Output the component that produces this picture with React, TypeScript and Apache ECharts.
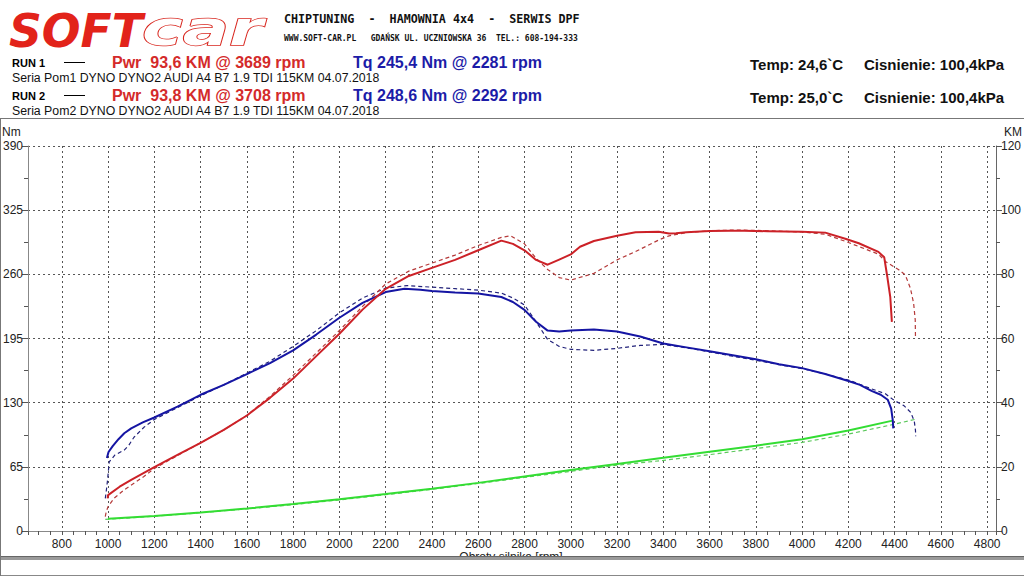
import { useEffect, useRef } from "react";
import * as echarts from "echarts";

// ---- Run 1 (solid lines) ----
const rpmTq1 = [995, 1002, 1020, 1045, 1070, 1100, 1150, 1200, 1300, 1400, 1500, 1600, 1700, 1800, 1900, 2000, 2100, 2200, 2281, 2350, 2400, 2500, 2600, 2700, 2750, 2800, 2850, 2900, 2950, 3000, 3100, 3200, 3300, 3400, 3500, 3600, 3700, 3800, 3900, 4000, 4100, 4200, 4250, 4300, 4340, 4370, 4385, 4392, 4394];
const tq1 = [74, 80, 86, 93, 99, 104, 110, 115, 126, 138, 148, 159, 170, 183, 199, 216, 231, 242, 245.4, 244.5, 243, 241.5, 240.5, 237, 232, 224, 212, 203, 202, 203, 204, 202, 197, 190, 186, 182, 178, 174, 169, 165, 159, 152, 148, 142, 138, 133, 124, 112, 104];

const rpmPwr1 = [998, 1000, 1050, 1100, 1200, 1300, 1400, 1500, 1600, 1700, 1800, 1900, 2000, 2100, 2200, 2300, 2400, 2500, 2600, 2700, 2750, 2800, 2850, 2900, 2950, 3000, 3040, 3100, 3200, 3280, 3380, 3425, 3455, 3500, 3600, 3689, 3750, 3850, 4000, 4100, 4190, 4245, 4330, 4355, 4367, 4381, 4388];
const pwr1 = [10.2, 11.2, 13.8, 15.9, 19.9, 23.7, 27.5, 31.5, 36, 41.5, 47.5, 54.5, 61.5, 69, 75.5, 79.5, 82, 84.5, 87.5, 90.5, 89.5, 87.5, 84.5, 83, 84.6, 86.2, 88.6, 90.4, 92, 93.1, 93.3, 92.7, 92.8, 93.1, 93.5, 93.6, 93.55, 93.45, 93.3, 93.0, 91.0, 89.7, 87.0, 85.3, 79.8, 73, 65.2];

const rpmLoss1 = [1000, 1200, 1400, 1600, 1800, 2000, 2200, 2400, 2600, 2800, 3000, 3200, 3400, 3600, 3800, 4000, 4200, 4391];
const loss1 = [3.8, 4.7, 5.8, 7.0, 8.4, 9.9, 11.5, 13.2, 15.0, 17.0, 19.0, 20.9, 22.8, 24.7, 26.6, 28.6, 31.3, 34.4];

// ---- Run 2 (dashed lines) ----
const rpmTq2 = [988, 992, 998, 1005, 1030, 1070, 1090, 1112, 1155, 1200, 1300, 1400, 1500, 1600, 1700, 1800, 1900, 2000, 2100, 2200, 2292, 2400, 2500, 2600, 2700, 2750, 2800, 2850, 2900, 2950, 3000, 3100, 3200, 3300, 3400, 3500, 3600, 3700, 3800, 3900, 4000, 4100, 4200, 4300, 4360, 4400, 4440, 4470, 4485, 4490, 4491];
const tq2 = [33, 40, 52, 70, 77, 82, 87, 95, 105, 113, 125, 137, 148, 160, 172, 187, 203, 221, 236, 246, 248.6, 247, 245.5, 244, 241, 236, 229, 212, 194, 187, 184, 183, 185, 188, 189, 185.5, 181.5, 177, 173, 168.5, 164.5, 159, 153, 144, 139, 132, 127, 120, 111, 102, 96];

const rpmPwr2 = [988, 992, 1000, 1026, 1069, 1112, 1155, 1200, 1300, 1400, 1500, 1600, 1700, 1800, 1900, 2000, 2100, 2200, 2300, 2400, 2500, 2600, 2700, 2740, 2800, 2850, 2900, 2950, 3000, 3100, 3200, 3280, 3380, 3425, 3500, 3600, 3708, 3800, 4000, 4100, 4190, 4330, 4360, 4418, 4446, 4468, 4482, 4489, 4490];
const pwr2 = [4.5, 6, 7.6, 10.2, 12.8, 14.9, 17, 19.5, 23.5, 27.5, 31.5, 36, 42, 48.5, 55.5, 62.5, 70, 77, 81, 83.5, 86, 89, 91.5, 92, 89.5, 85, 81.5, 79, 78.2, 80.3, 84.5, 87.1, 90.7, 92, 93, 93.6, 93.8, 93.7, 93.2, 92.5, 90.2, 86.3, 84, 81.4, 79.8, 75.7, 71, 65.8, 60.6];

const rpmLoss2 = [988, 1200, 1400, 1600, 1800, 2000, 2200, 2400, 2600, 2800, 3000, 3200, 3400, 3600, 3800, 4000, 4200, 4400, 4489];
const loss2 = [3.6, 4.6, 5.7, 6.9, 8.2, 9.7, 11.3, 13.0, 14.8, 16.7, 18.6, 20.5, 22.0, 23.8, 25.7, 27.6, 30.2, 33.3, 34.8];

// ---- Header texts ----
const tagline = "CHIPTUNING  -  HAMOWNIA 4x4  -  SERWIS DPF";
const address = "WWW.SOFT-CAR.PL   GDAŃSK UL. UCZNIOWSKA 36  TEL.: 608-194-333";
const runLabels = ["RUN 1", "RUN 2"];
const pwrLabels = ["Pwr  93,6 KM @ 3689 rpm", "Pwr  93,8 KM @ 3708 rpm"];
const tqLabels = ["Tq 245,4 Nm @ 2281 rpm", "Tq 248,6 Nm @ 2292 rpm"];
const runDescriptions = [
  "Seria Pom1 DYNO DYNO2 AUDI A4 B7 1.9 TDI 115KM 04.07.2018",
  "Seria Pom2 DYNO DYNO2 AUDI A4 B7 1.9 TDI 115KM 04.07.2018",
];
const tempLabels = ["Temp: 24,6`C", "Temp: 25,0`C"];
const pressureLabels = ["Cisnienie: 100,4kPa", "Cisnienie: 100,4kPa"];

const SANS = "'Liberation Sans', Arial, sans-serif";
const MONO = "'DejaVu Sans Mono', monospace";

const pairs = (xs: number[], ys: number[]) => xs.map((x, i) => [x, ys[i]]);

function headerGraphics() {
  const els: any[] = [
    // logo
    {
      type: "text", x: 9, y: 54, scaleX: 0.97, z: 10,
      style: { text: "SOFT", font: `italic bold 47px 'DejaVu Sans'`, fill: "#e2231a", textVerticalAlign: "bottom" },
    },
    {
      type: "text", x: 142, y: 52.5, scaleX: 1.43, z: 10,
      style: { text: "car", font: `italic bold 48px 'DejaVu Sans'`, fill: "#ffffff", stroke: "#d8261e", lineWidth: 1.5, textVerticalAlign: "bottom" },
    },
    {
      type: "text", x: 284, y: 19, scaleX: 0.9, z: 10,
      style: { text: tagline, font: `bold 13px ${MONO}`, fill: "#111", textVerticalAlign: "middle" },
    },
    {
      type: "text", x: 284, y: 38, z: 10,
      style: { text: address, font: `bold 8px ${MONO}`, fill: "#111", textVerticalAlign: "middle" },
    },
  ];
  const rowY = [62, 95];
  rowY.forEach((y, i) => {
    els.push(
      { type: "text", x: 12, y: y + 1, z: 10, style: { text: runLabels[i], font: `bold 11px ${SANS}`, fill: "#000", textVerticalAlign: "middle" } },
      { type: "line", z: 10, shape: { x1: 64, y1: y + 0.5, x2: 85, y2: y + 0.5 }, style: { stroke: "#000", lineWidth: 1 } },
      { type: "text", x: 112, y: y, z: 10, style: { text: pwrLabels[i], font: `bold 16px ${SANS}`, fill: "#d42a2a", textVerticalAlign: "middle" } },
      { type: "text", x: 353, y: y, z: 10, style: { text: tqLabels[i], font: `bold 16px ${SANS}`, fill: "#1c1ca8", textVerticalAlign: "middle" } },
      { type: "text", x: 12, y: y + 16, z: 10, style: { text: runDescriptions[i], font: `12.3px ${SANS}`, fill: "#111", textVerticalAlign: "middle" } },
      { type: "text", x: 750, y: y + 2, z: 10, style: { text: tempLabels[i], font: `bold 15px ${SANS}`, fill: "#111", textVerticalAlign: "middle" } },
      { type: "text", x: 864, y: y + 2, z: 10, style: { text: pressureLabels[i], font: `bold 15px ${SANS}`, fill: "#111", textVerticalAlign: "middle" } },
    );
  });
  // frame around the plot
  els.push(
    { type: "line", z: 10, shape: { x1: 0, y1: 118.5, x2: 1024, y2: 118.5 }, style: { stroke: "#777", lineWidth: 1 } },
    { type: "line", z: 10, shape: { x1: 0.5, y1: 118, x2: 0.5, y2: 576 }, style: { stroke: "#777", lineWidth: 1 } },
    { type: "text", x: 2, y: 132, z: 10, style: { text: "Nm", font: `12px ${SANS}`, fill: "#222", textVerticalAlign: "middle" } },
    { type: "text", x: 1022, y: 132, z: 10, style: { text: "KM", font: `12px ${SANS}`, fill: "#222", textAlign: "right", textVerticalAlign: "middle" } },
    { type: "text", x: 511, y: 563, z: 10, style: { text: "Obroty silnika [rpm]", font: `12px ${SANS}`, fill: "#222", textAlign: "center", textVerticalAlign: "bottom" } },
    { type: "rect", z: 20, shape: { x: 0, y: 560, width: 1024, height: 16 }, style: { fill: "#fff" } },
    { type: "rect", z: 21, shape: { x: 0, y: 556, width: 1024, height: 4 }, style: { fill: "#9a9a9a" } },
    { type: "line", z: 21, shape: { x1: 0, y1: 556.5, x2: 1024, y2: 556.5 }, style: { stroke: "#666", lineWidth: 1 } },
    { type: "line", z: 21, shape: { x1: 0, y1: 575.5, x2: 1024, y2: 575.5 }, style: { stroke: "#888", lineWidth: 1 } },
    { type: "line", z: 21, shape: { x1: 0.5, y1: 556, x2: 0.5, y2: 576 }, style: { stroke: "#777", lineWidth: 1 } },
  );
  return els;
}

export default function App() {
  const ref = useRef<HTMLDivElement>(null);

  useEffect(() => {
    const chart = echarts.init(ref.current!, null, { renderer: "svg" });
    const lineSeries = (data: number[][], axis: number, color: string, dashed: boolean, z: number) => ({
      type: "line",
      yAxisIndex: axis,
      data,
      symbol: "none",
      showSymbol: false,
      z,
      lineStyle: dashed
        ? { color, width: 1.2, type: [4, 3] }
        : { color, width: 2 },
    });

    chart.setOption({
      animation: false,
      backgroundColor: "#ffffff",
      textStyle: { fontFamily: SANS },
      grid: { left: 27, right: 26, top: 146, bottom: 45, containLabel: false },
      xAxis: {
        type: "value",
        min: 654,
        max: 4838,
        splitNumber: 20,
        axisLine: { show: true, onZero: false, lineStyle: { color: "#888", width: 1 } },
        axisTick: { show: true, length: 4, lineStyle: { color: "#555" } },
        minorTick: { show: true, splitNumber: 4, length: 4, lineStyle: { color: "#555" } },
        axisLabel: {
          color: "#222",
          fontSize: 12,
          fontFamily: SANS,
          margin: 7,
          showMinLabel: false,
          showMaxLabel: false,
          formatter: (v: number) => (v % 200 === 0 ? String(v) : ""),
        },
        splitLine: { show: true, lineStyle: { color: "#555", width: 1, type: [2, 3] } },
      },
      yAxis: [
        {
          type: "value",
          position: "left",
          min: 0,
          max: 390,
          interval: 65,
          axisLine: { show: true, lineStyle: { color: "#888", width: 1 } },
          axisTick: { show: true, length: 6, lineStyle: { color: "#555" } },
          minorTick: { show: true, splitNumber: 2, length: 4, lineStyle: { color: "#555" } },
          axisLabel: { color: "#222", fontSize: 12, fontFamily: SANS, margin: 5 },
          splitLine: { show: true, lineStyle: { color: "#555", width: 1, type: [2, 3] } },
        },
        {
          type: "value",
          position: "right",
          min: 0,
          max: 120,
          interval: 20,
          axisLine: { show: true, lineStyle: { color: "#666", width: 1 } },
          axisTick: { show: true, length: 6, lineStyle: { color: "#555" } },
          minorTick: { show: true, splitNumber: 2, length: 4, lineStyle: { color: "#555" } },
          axisLabel: { color: "#222", fontSize: 12, fontFamily: SANS, margin: 5 },
          splitLine: { show: false },
        },
      ],
      series: [
        lineSeries(pairs(rpmLoss2, loss2), 1, "#5cc85c", true, 2),
        lineSeries(pairs(rpmLoss1, loss1), 1, "#33dd33", false, 3),
        lineSeries(pairs(rpmTq2, tq2), 0, "#22227a", true, 4),
        lineSeries(pairs(rpmPwr2, pwr2), 1, "#b53a3a", true, 4),
        lineSeries(pairs(rpmTq1, tq1), 0, "#1515a3", false, 5),
        lineSeries(pairs(rpmPwr1, pwr1), 1, "#cc2127", false, 6),
      ],
      graphic: headerGraphics(),
    });
    return () => chart.dispose();
  }, []);

  return (
    <div
      ref={ref}
      style={{ position: "fixed", left: 0, top: 0, width: 1024, height: 576, background: "#fff" }}
    />
  );
}
